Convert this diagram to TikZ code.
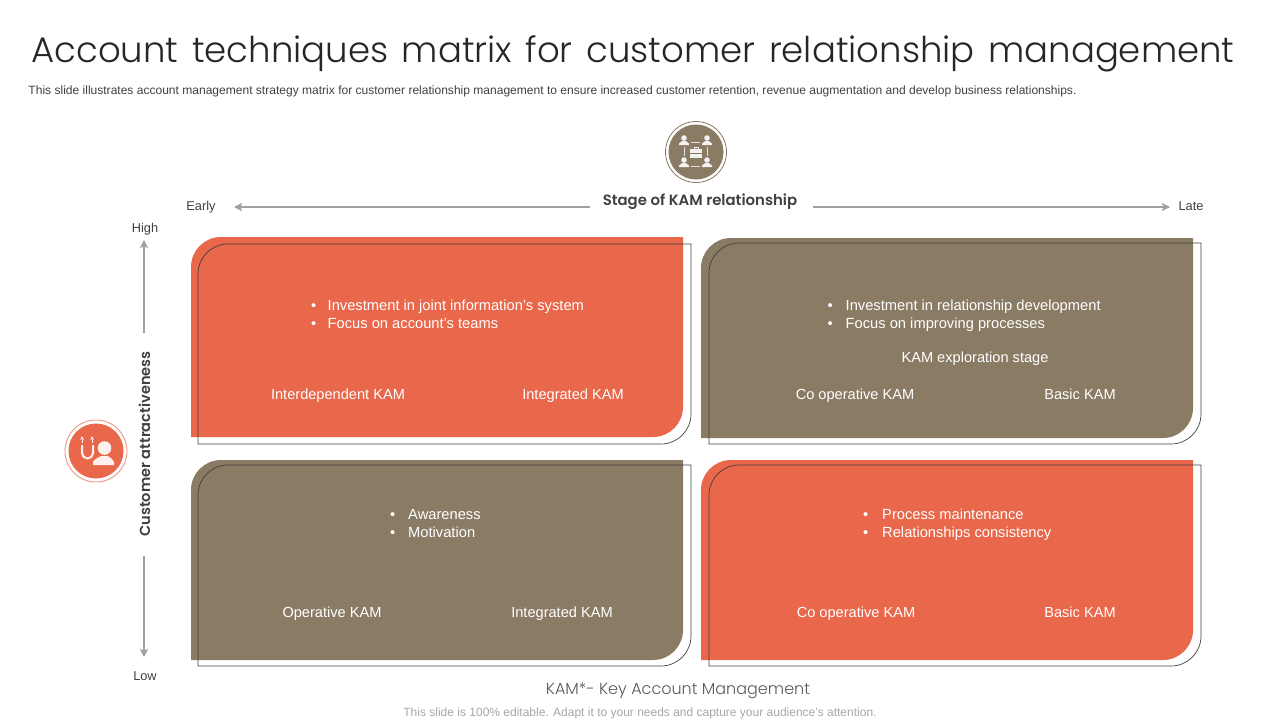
\documentclass[tikz,border=0pt]{standalone}
\usepackage{fontspec}
\usetikzlibrary{arrows.meta}
\setmainfont{Liberation Sans}
\newfontfamily\kamthin{Poppins Light}
\newfontfamily\kammid{Poppins SemiBold}
\definecolor{kamred}{HTML}{E9674A}
\definecolor{kambrown}{HTML}{8A7B65}
\definecolor{kamgrey}{HTML}{A0A0A0}
\tikzset{
  kamtext/.style={text=white,font=\fontsize{14.6}{18}\selectfont,inner sep=0pt,text height=10.5pt,text depth=2.5pt},
  kamlist/.style={text=white,font=\fontsize{14.7}{18}\selectfont,inner sep=0pt,align=left,anchor=west},
  kamsmall/.style={text=black!75,font=\fontsize{12.8}{14}\selectfont,inner sep=0pt,text height=9.5pt,text depth=2.5pt},
  kamaxis/.style={text=black!75,font=\kammid\fontsize{#1}{17}\selectfont,inner sep=0pt},
  kamarrow/.style={-{Stealth[length=8pt,width=8pt,inset=1.5pt]},draw=kamgrey,line width=1.3pt},
}
% one card: x, y of the top left corner, then colour
\newcommand{\kamcard}[3]{
  \fill[#3] (#1,#2+200) -- (#1,#2+30) arc[start angle=180,end angle=90,radius=30,y radius=-30] --
    (#1+492,#2) -- (#1+492,#2+170) arc[start angle=0,end angle=90,radius=30,y radius=30] -- cycle;
}
% thin outline of one card
\newcommand{\kamedge}[4]{
  \draw[black!75,line width=0.7pt] (#1,#2+#4) -- (#1,#2+30) arc[start angle=180,end angle=90,radius=30,y radius=-30] --
    (#1+#3,#2) -- (#1+#3,#2+#4-30) arc[start angle=0,end angle=90,radius=30,y radius=30] -- cycle;
}
\newcommand{\kamitem}[2][16.5pt]{\makebox[#1][l]{•}\vphantom{Ag'}#2}
% small figure: x, y of the head, then colour
\newcommand{\kamfigure}[3]{
  \fill[#3] (#1,#2) circle[radius=2.8];
  \fill[#3] (#1-5,#2+7) -- (#1-5,#2+5.5) -- (#1-2,#2+3.2) -- (#1+2,#2+3.2) -- (#1+5,#2+5.5) -- (#1+5,#2+7) -- cycle;
}
\begin{document}
\begin{tikzpicture}[x=1pt,y=-1pt]
  \useasboundingbox (0,0) rectangle (1280,720);
  % draw title and subtitle
  \node at(633,62)[anchor=base,inner sep=0pt,text=black!85,font=\kamthin\fontsize{35.5}{40}\selectfont](title){\spaceskip=13.6pt\relax Account techniques matrix for customer relationship management};
  \node at(552.5,91.5)[inner sep=0pt,text=black!75,font=\fontsize{12.04}{14}\selectfont](subtitle){This slide illustrates account management strategy matrix for customer relationship management to ensure increased customer retention, revenue augmentation and develop business relationships.};
  % draw cards
  \kamcard{191}{237}{kamred}
  \kamcard{701}{238}{kambrown}
  \kamcard{191}{460}{kambrown}
  \kamcard{701}{460}{kamred}
  % draw card outlines
  \kamedge{198}{244}{493}{200}
  \kamedge{709}{243}{492}{201}
  \kamedge{198}{465}{493}{201}
  \kamedge{709}{465}{492}{201}
  % draw axis labels
  \node at(700,202)[kamaxis=14.9](stage){Stage of KAM relationship};
  \node at(144.5,444)[kamaxis=14.6,rotate=90](attract){Customer attractiveness};
  \node at(201,206.5)[kamsmall](early){Early};
  \node at(1191,206.5)[kamsmall](late){Late};
  \node at(145,228.5)[kamsmall](high){High};
  \node at(145,676.5)[kamsmall](low){Low};
  % draw arrows along the axes
  \coordinate (stageleft) at(590,207);
  \coordinate (earlyend) at(234,207);
  \coordinate (stageright) at(813,207);
  \coordinate (lateend) at(1170,207);
  \coordinate (attracttop) at(144,333);
  \coordinate (highend) at(144,240);
  \coordinate (attractlow) at(144,556);
  \coordinate (lowend) at(144,657);
  \draw [kamarrow](stageleft) -- (earlyend);
  \draw [kamarrow](stageright) -- (lateend);
  \draw [kamarrow](attracttop) -- (highend);
  \draw [kamarrow](attractlow) -- (lowend);
  % draw top left card text
  \node at(311,316)[kamlist](listone){\kamitem{Investment in joint information's system}\\\kamitem{Focus on account's teams}};
  \node at(338,395)[kamtext](interdep){Interdependent KAM};
  \node at(573,395)[kamtext](integone){Integrated KAM};
  % draw top right card text
  \node at(827.5,316)[kamlist](listtwo){\kamitem[18pt]{Investment in relationship development}\\\kamitem[18pt]{Focus on improving processes}};
  \node at(975,358)[kamtext](explore){KAM exploration stage};
  \node at(855,395)[kamtext](cooptwo){Co operative KAM};
  \node at(1080,395)[kamtext](basictwo){Basic KAM};
  % draw bottom left card text
  \node at(390,525)[kamlist](listthree){\kamitem[18pt]{Awareness}\\\kamitem[18pt]{Motivation}};
  \node at(332,613)[kamtext](operative){Operative KAM};
  \node at(562,613)[kamtext](integthree){Integrated KAM};
  % draw bottom right card text
  \node at(863,525)[kamlist](listfour){\kamitem[19pt]{Process maintenance}\\\kamitem[19pt]{Relationships consistency}};
  \node at(856,613)[kamtext](coopfour){Co operative KAM};
  \node at(1080,613)[kamtext](basicfour){Basic KAM};
  % draw footer text
  \node at(678,691)[inner sep=0pt,text=black!65,font=\kamthin\fontsize{16}{17}\selectfont](kamnote){KAM*- Key Account Management};
  \node at(640,713.5)[inner sep=0pt,text=black!35,font=\fontsize{12}{14}\selectfont](editable){This slide is 100\% editable. Adapt it to your needs and capture your audience's attention.};
  % draw top icon
  \node at(696,152)[circle,draw=kambrown,line width=0.8pt,minimum size=61pt,inner sep=0pt](topring){};
  \node at(696,152)[circle,fill=kambrown,minimum size=55pt,inner sep=0pt](topdisc){};
  \kamfigure{684}{138}{white!90!kambrown}
  \kamfigure{707}{138}{white!90!kambrown}
  \kamfigure{684}{160}{white!90!kambrown}
  \kamfigure{707}{160}{white!90!kambrown}
  \draw[white!75!kambrown,line width=0.5pt] (691,142) -- (700,142) (684,147) -- (684,156) (707,147) -- (707,156) (691,166) -- (700,166);
  \fill[white!90!kambrown] (690,149) rectangle (702,158);
  \draw[kambrown,line width=0.5pt] (690,153) -- (702,153);
  \draw[white!90!kambrown,line width=0.6pt] (694,149) -- (694,147.5) -- (698,147.5) -- (698,149);
  % draw left icon
  \node at(96,451)[circle,draw=kamred!70,line width=0.9pt,minimum size=62pt,inner sep=0pt](leftring){};
  \node at(96,451)[circle,fill=kamred,minimum size=55pt,inner sep=0pt](leftdisc){};
  \draw[white!90!kamred,line width=2pt] (82,445) -- (82,453) arc[start angle=180,end angle=0,radius=5.5,y radius=5.5] -- (93,445);
  \draw[white!90!kamred,line width=0.7pt,-stealth] (82,443) -- (82,436);
  \draw[white!90!kamred,line width=0.7pt,-stealth] (92,443) -- (92,436);
  \fill[white!90!kamred] (104.5,448) circle[radius=6.8];
  \fill[white!90!kamred] (93,465) -- (93,462) .. controls (94,459) and (99,457.5) .. (101,456) -- (108,456) .. controls (110,457.5) and (113,459) .. (114,462) -- (114,465) -- cycle;
\end{tikzpicture}
\end{document}
